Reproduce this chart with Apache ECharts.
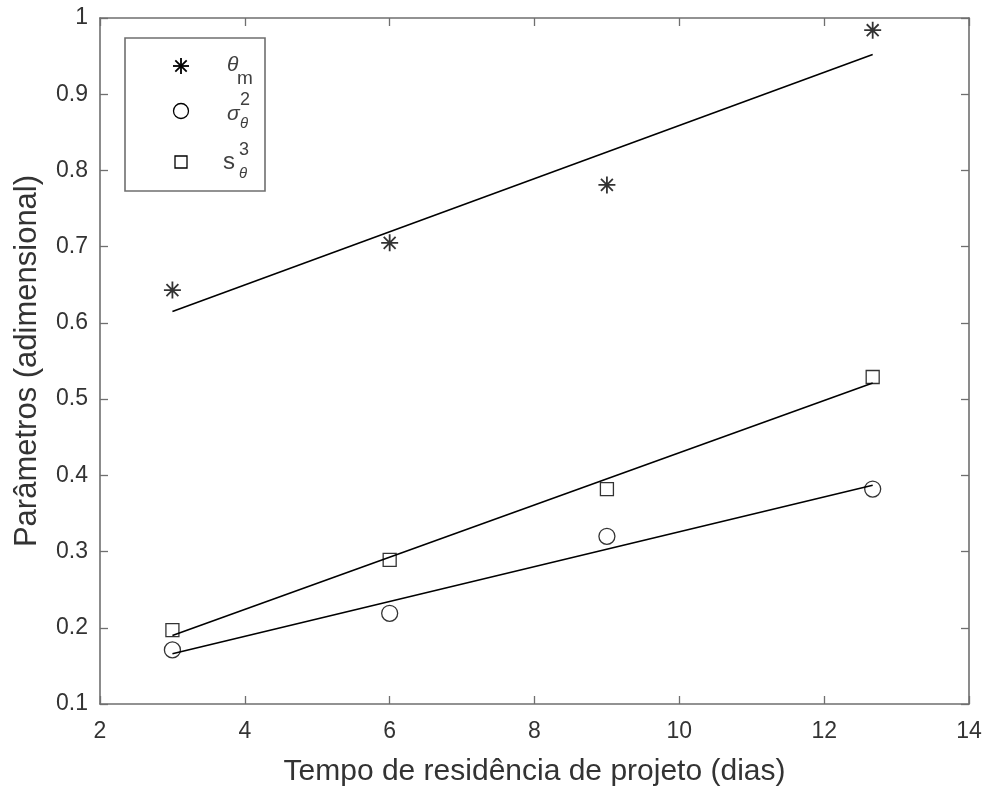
<!DOCTYPE html>
<html>
<head>
<meta charset="utf-8">
<script src="https://cdn.jsdelivr.net/npm/echarts@6/dist/echarts.min.js"></script>
<style>
  html, body { margin: 0; padding: 0; background: #fff; }
  #chart { width: 987px; height: 793px; }
</style>
</head>
<body>
<div id="chart"></div>
<script>
// Design residence times (days)
var dias = [3, 6, 9, 12.67];

// Measured parameters
var thetaM = [0.643, 0.705, 0.781, 0.984];
var sigma2 = [0.171, 0.219, 0.320, 0.382];
var s3 = [0.197, 0.289, 0.382, 0.529];

// Linear trend lines, end points at the first and last residence time
var fitX = [3, 12.67];
var fitThetaM = [0.615, 0.952];
var fitSigma2 = [0.166, 0.387];
var fitS3 = [0.190, 0.521];

// Axis ticks
var xTicks = [2, 4, 6, 8, 10, 12, 14];
var yTicks = [0.1, 0.2, 0.3, 0.4, 0.5, 0.6, 0.7, 0.8, 0.9, 1];

var FONT = '"Liberation Sans", Arial, Helvetica, sans-serif';
var AXIS_GRAY = '#6f6f6f';
var TEXT_GRAY = '#333333';
var LEGEND_TEXT = '#404040';

function pairs(xs, ys) {
  return xs.map(function (x, i) { return [x, ys[i]]; });
}

var asterisk = 'path://M10,0L10,20M0,10L20,10M3,3L17,17M3,17L17,3';

var markerStyle = { color: 'rgba(0,0,0,0)', borderColor: '#000', borderWidth: 1.3 };

// Asterisk drawn as four strokes for the legend
function legendStar(cx, cy, r) {
  var d = r * 0.71;
  var segs = [[0, -r, 0, r], [-r, 0, r, 0], [-d, -d, d, d], [-d, d, d, -d]];
  return segs.map(function (s) {
    return {
      type: 'line', z: 11,
      shape: { x1: cx + s[0], y1: cy + s[1], x2: cx + s[2], y2: cy + s[3] },
      style: { stroke: '#000', lineWidth: 1.8 }
    };
  });
}

var chart = echarts.init(document.getElementById('chart'), null, { renderer: 'canvas' });

var tickStyle = { show: true, inside: true, length: 8, lineStyle: { color: AXIS_GRAY, width: 1.3 } };
var lineStyleAxis = { show: true, lineStyle: { color: AXIS_GRAY, width: 1.6 } };

var legendGraphics = [
  { type: 'rect', z: 10,
    shape: { x: 125, y: 38, width: 140, height: 153 },
    style: { fill: '#fff', stroke: AXIS_GRAY, lineWidth: 1.6 } }
].concat(legendStar(181, 66, 8)).concat([
  { type: 'circle', z: 11, shape: { cx: 181, cy: 111, r: 7.5 },
    style: { fill: null, stroke: '#000', lineWidth: 1.3 } },
  { type: 'rect', z: 11, shape: { x: 175, y: 156, width: 12, height: 12 },
    style: { fill: null, stroke: '#000', lineWidth: 1.3 } },
  { type: 'text', z: 11, x: 227, y: 65,
    style: { text: 'θ', font: 'italic 21px ' + FONT, fill: LEGEND_TEXT, textVerticalAlign: 'middle' } },
  { type: 'text', z: 11, x: 237, y: 79,
    style: { text: 'm', font: '19px ' + FONT, fill: LEGEND_TEXT, textVerticalAlign: 'middle' } },
  { type: 'text', z: 11, x: 227, y: 114,
    style: { text: 'σ', font: 'italic 21px ' + FONT, fill: LEGEND_TEXT, textVerticalAlign: 'middle' } },
  { type: 'text', z: 11, x: 240, y: 100,
    style: { text: '2', font: '18px ' + FONT, fill: LEGEND_TEXT, textVerticalAlign: 'middle' } },
  { type: 'text', z: 11, x: 240, y: 124,
    style: { text: 'θ', font: 'italic 15px ' + FONT, fill: LEGEND_TEXT, textVerticalAlign: 'middle' } },
  { type: 'text', z: 11, x: 223, y: 162,
    style: { text: 's', font: '24px ' + FONT, fill: LEGEND_TEXT, textVerticalAlign: 'middle' } },
  { type: 'text', z: 11, x: 239, y: 150,
    style: { text: '3', font: '18px ' + FONT, fill: LEGEND_TEXT, textVerticalAlign: 'middle' } },
  { type: 'text', z: 11, x: 239, y: 174,
    style: { text: 'θ', font: 'italic 15px ' + FONT, fill: LEGEND_TEXT, textVerticalAlign: 'middle' } }
]);

var option = {
  backgroundColor: '#fff',
  animation: false,
  grid: { left: 100, right: 18, top: 18, bottom: 89, containLabel: false },
  xAxis: [{
    type: 'value',
    min: xTicks[0],
    max: xTicks[xTicks.length - 1],
    interval: 2,
    position: 'bottom',
    axisLine: lineStyleAxis,
    axisTick: tickStyle,
    splitLine: { show: false },
    axisLabel: { color: TEXT_GRAY, fontSize: 23, fontFamily: FONT, margin: 16 },
    name: 'Tempo de residência de projeto (dias)',
    nameLocation: 'middle',
    nameGap: 53,
    nameTextStyle: { color: TEXT_GRAY, fontSize: 30, fontFamily: FONT }
  }, {
    type: 'value',
    min: xTicks[0],
    max: xTicks[xTicks.length - 1],
    interval: 2,
    position: 'top',
    axisLine: lineStyleAxis,
    axisTick: tickStyle,
    splitLine: { show: false },
    axisLabel: { show: false }
  }],
  yAxis: [{
    type: 'value',
    min: yTicks[0],
    max: yTicks[yTicks.length - 1],
    interval: 0.1,
    position: 'left',
    axisLine: lineStyleAxis,
    axisTick: tickStyle,
    splitLine: { show: false },
    axisLabel: {
      color: TEXT_GRAY, fontSize: 23, fontFamily: FONT, margin: 12,
      formatter: function (v) { return String(Number(v.toFixed(1))); }
    },
    name: 'Parâmetros (adimensional)',
    nameLocation: 'middle',
    nameGap: 57,
    nameTextStyle: { color: TEXT_GRAY, fontSize: 31, fontFamily: FONT }
  }, {
    type: 'value',
    min: yTicks[0],
    max: yTicks[yTicks.length - 1],
    interval: 0.1,
    position: 'right',
    axisLine: lineStyleAxis,
    axisTick: tickStyle,
    splitLine: { show: false },
    axisLabel: { show: false }
  }],
  series: [
    { name: 'fitTheta', type: 'line', data: pairs(fitX, fitThetaM), symbol: 'none',
      lineStyle: { color: '#000', width: 1.6 }, z: 2 },
    { name: 'fitSigma', type: 'line', data: pairs(fitX, fitSigma2), symbol: 'none',
      lineStyle: { color: '#000', width: 1.6 }, z: 2 },
    { name: 'fitS', type: 'line', data: pairs(fitX, fitS3), symbol: 'none',
      lineStyle: { color: '#000', width: 1.6 }, z: 2 },
    { name: 'thetaM', type: 'scatter', data: pairs(dias, thetaM), symbol: asterisk,
      symbolSize: 17, itemStyle: { color: 'rgba(0,0,0,0)', borderColor: '#000', borderWidth: 1.8 }, z: 3 },
    { name: 'sigma2', type: 'scatter', data: pairs(dias, sigma2), symbol: 'circle',
      symbolSize: 16, itemStyle: markerStyle, z: 3 },
    { name: 's3', type: 'scatter', data: pairs(dias, s3), symbol: 'rect',
      symbolSize: 13, itemStyle: markerStyle, z: 3 }
  ],
  graphic: legendGraphics
};

chart.setOption(option);
</script>
</body>
</html>
